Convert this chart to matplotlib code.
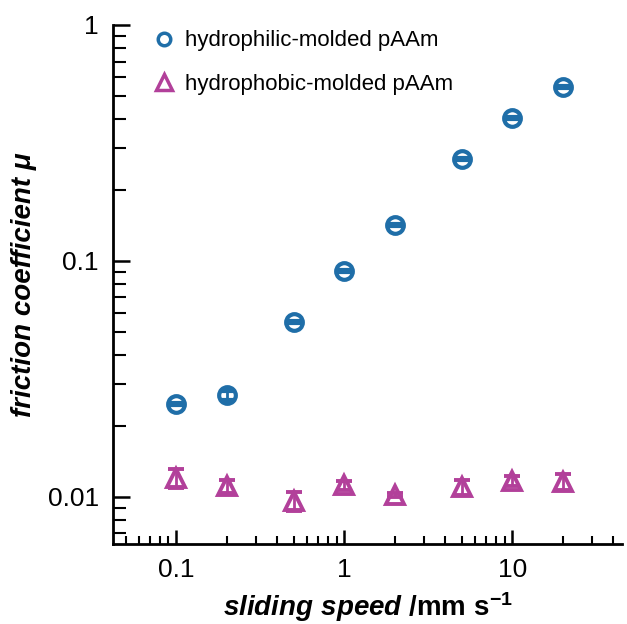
import numpy as np
import matplotlib.pyplot as plt
from matplotlib.lines import Line2D

plt.rcParams['font.family'] = ['Liberation Sans', 'DejaVu Sans']
plt.rcParams['mathtext.fontset'] = 'custom'
plt.rcParams['mathtext.rm'] = 'Liberation Sans:bold'
plt.rcParams['mathtext.it'] = 'Liberation Sans:bold:italic'
plt.rcParams['mathtext.bf'] = 'Liberation Sans:bold'

# sliding speed (mm/s)
speed = [0.1, 0.2, 0.5, 1, 2, 5, 10, 20]
# hydrophilic-molded pAAm
mu_philic = [0.0248, 0.0270, 0.0552, 0.0907, 0.142, 0.270, 0.404, 0.546]
err_philic = [0.0002, 0.0012, 0.0005, 0.0008, 0.001, 0.002, 0.003, 0.004]
# hydrophobic-molded pAAm
mu_phobic = [0.0120, 0.0111, 0.0096, 0.0112, 0.0102, 0.0110, 0.0117, 0.0116]
err_phobic = [0.0011, 0.0007, 0.0009, 0.0005, 0.0002, 0.0008, 0.0006, 0.0009]

blue = '#1f6ea8'
mag = '#b2409a'

fig = plt.figure(figsize=(6.27, 6.24), dpi=100)
ax = fig.add_axes([0.180, 0.128, 0.812, 0.832])

ax.errorbar(speed, mu_philic, yerr=err_philic, fmt='o', ms=12, mfc='none',
            mec=blue, mew=3, ecolor=blue, elinewidth=2, capsize=5, capthick=2)
ax.errorbar(speed, mu_phobic, yerr=err_phobic, fmt='^', ms=13, mfc='none',
            mec=mag, mew=2.8, ecolor=mag, elinewidth=2, capsize=6, capthick=2.2)

ax.set_xscale('log')
ax.set_yscale('log')
ax.set_xlim(0.042, 45)
ax.set_ylim(0.0063, 1)

ax.spines['top'].set_visible(False)
ax.spines['right'].set_visible(False)
for s in ['left', 'bottom']:
    ax.spines[s].set_linewidth(2)

ax.set_xticks([0.1, 1, 10])
ax.set_xticklabels(['0.1', '1', '10'])
ax.set_yticks([0.01, 0.1, 1])
ax.set_yticklabels(['0.01', '0.1', '1'])
ax.tick_params(which='major', direction='in', length=10, width=1.8, labelsize=19, pad=10)
ax.tick_params(which='minor', direction='in', length=6, width=1.5)
ax.tick_params(axis='y', which='major', length=12)
ax.tick_params(axis='y', which='minor', length=9)

ax.set_xlabel(r'$\it{sliding\ speed}$ /mm s$^{-1}$', fontsize=20, fontweight='bold', labelpad=6)
ax.set_ylabel('friction coefficient μ', fontsize=20, fontweight='bold', style='italic', labelpad=8)

handles = [Line2D([], [], ls='none', marker='o', ms=9, mfc='none', mec=blue, mew=2.5),
           Line2D([], [], ls='none', marker='^', ms=12, mfc='none', mec=mag, mew=2.5)]
ax.legend(handles, ['hydrophilic-molded pAAm', 'hydrophobic-molded pAAm'],
          loc='upper left', bbox_to_anchor=(0.04, 1.028), frameon=False,
          fontsize=16, handletextpad=0.45, labelspacing=1.0, handlelength=1.0)

fig.savefig('out.png', dpi=100)
